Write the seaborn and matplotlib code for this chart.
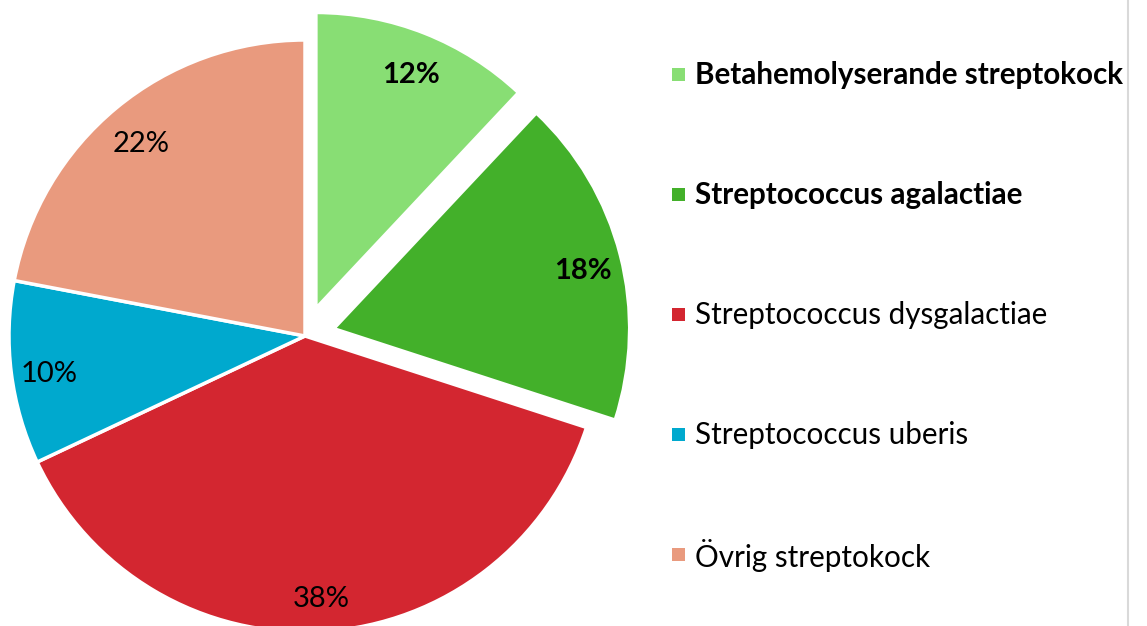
import matplotlib
matplotlib.use("Agg")
import matplotlib.pyplot as plt
import matplotlib.transforms as mtransforms
import seaborn as sns
from matplotlib.patches import Rectangle
from matplotlib.lines import Line2D

categories = ["Betahemolyserande streptokock", "Streptococcus agalactiae",
              "Streptococcus dysgalactiae", "Streptococcus uberis", "Övrig streptokock"]
values = [12, 18, 38, 10, 22]
bold_flags = [True, True, False, False, False]
explode = [0.1, 0.1, 0, 0, 0]
colors = sns.color_palette(["#88DE74", "#43B02A", "#D32630", "#00A9CE", "#E99A7E"])

sns.set_theme(style="white")
plt.rcParams["font.family"] = ["Lato", "DejaVu Sans"]

W, H = 1147, 626
fig = plt.figure(figsize=(W / 100, H / 100), dpi=100)
fig.patch.set_facecolor("white")

# pie axes: centre at (305, 336) px, radius 296 px
r = 296.0
cx, cy = 305.0, 336.0
ax = fig.add_axes([0, 0, 1, 1])
ax.set_facecolor("none")
wedges, texts, autotexts = ax.pie(
    values, colors=colors, explode=explode, startangle=90, counterclock=False,
    autopct="%1.0f%%", pctdistance=0.87,
    wedgeprops=dict(edgecolor="white", linewidth=2.5),
    textprops=dict(fontsize=21, color="black"))
shift = mtransforms.ScaledTranslation(0, -6 / 100, fig.dpi_scale_trans)
for t, b in zip(autotexts, bold_flags):
    t.set_fontweight("bold" if b else "normal")
    t.set_transform(t.get_transform() + shift)
ax.set_aspect("auto")
ax.set_xlim(-cx / r, (W - cx) / r)
ax.set_ylim(-(H - cy) / r, cy / r)
ax.axis("off")

# legend
for i, (lab, col, b) in enumerate(zip(categories, colors, bold_flags)):
    ypix = 74 + 120 * i
    fig.patches.append(Rectangle((672 / W, 1 - (ypix + 7) / H), 13 / W, 13 / H,
                                 transform=fig.transFigure, facecolor=col,
                                 edgecolor="none"))
    fig.text(695 / W, 1 - (ypix + 1) / H, lab, fontsize=21.3,
             fontweight="bold" if b else "normal", va="center", ha="left",
             color="black")

fig.add_artist(Line2D([1128 / W, 1128 / W], [0, 1], transform=fig.transFigure,
                      color="#D9D9D9", linewidth=1.5))

fig.savefig("out.png", dpi=100)
